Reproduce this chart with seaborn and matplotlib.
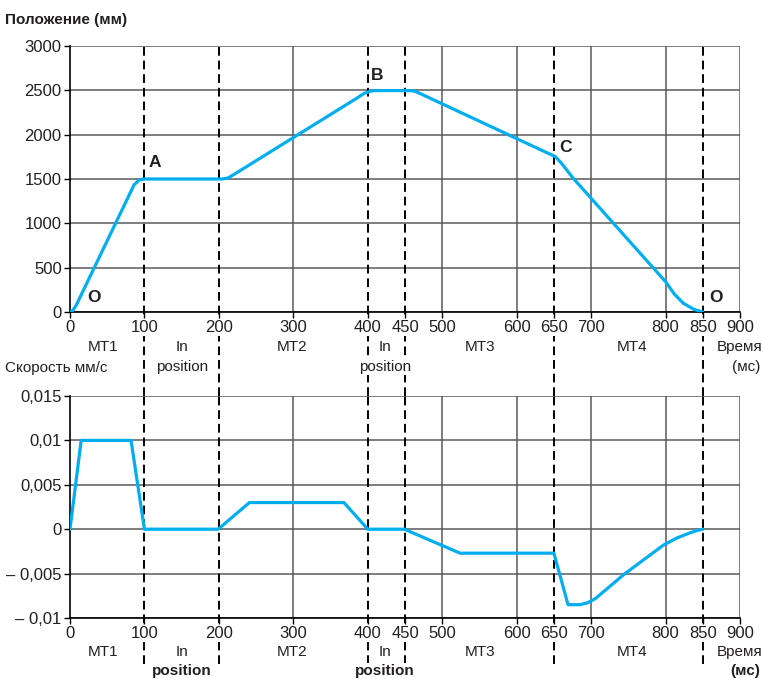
import matplotlib
matplotlib.use('Agg')
import matplotlib.pyplot as plt
import seaborn as sns
import pandas as pd
from matplotlib import font_manager

# Данные: положение (мм) по времени (мс)
t_pos = [0, 4, 8, 86, 93, 100, 204, 212, 220, 385, 395, 404, 410, 457, 463, 470,
         652, 660, 676, 800, 812, 824, 838, 850]
pos = [0, 20, 70, 1433, 1490, 1500, 1500, 1510, 1550, 2410, 2465, 2492, 2497, 2497, 2490, 2465,
       1752, 1680, 1508, 342, 200, 98, 30, 0]

# Данные: скорость (мм/с) по времени (мс)
t_vel = [0, 15, 82, 100, 199, 241, 368, 400, 449, 524, 650, 669, 685, 695, 706, 744, 797,
         815, 830, 842, 850]
vel = [0, 0.01, 0.01, 0, 0, 0.003, 0.003, 0, 0, -0.0027, -0.0027, -0.0085, -0.0085, -0.0083,
       -0.0078, -0.0051, -0.0018, -0.0010, -0.0005, -0.00015, 0]

x_ticks = [0, 100, 200, 300, 400, 450, 500, 600, 650, 700, 800, 850, 900]
pos_ticks = [0, 500, 1000, 1500, 2000, 2500, 3000]
vel_ticks = [-0.01, -0.005, 0, 0.005, 0.01, 0.015]
vel_tick_labels = ['– 0,01', '– 0,005', '0', '0,005', '0,01', '0,015']
phase_bounds = [100, 200, 400, 450, 650, 850]
solid_grid = [300, 500, 600, 700, 800, 900]
phase_names = ['MT1', 'In', 'MT2', 'In', 'MT3', 'MT4']
phase_x = [44, 150, 298, 423, 551, 755]
point_labels = ['O', 'A', 'B', 'C', 'O']
point_x = [32, 114, 413, 666, 868]
point_y = [160, 1690, 2670, 1850, 160]

sns.set_style('white')
names = {f.name for f in font_manager.fontManager.ttflist}
narrow = 'Liberation Sans Narrow' if 'Liberation Sans Narrow' in names else 'Liberation Sans'
plt.rcParams['font.family'] = ['Liberation Sans', 'DejaVu Sans']
ink = '#231f20'
blue = '#00aeef'
grid_c = '#5a5a5a'
white_box = dict(facecolor='white', edgecolor='none', pad=0.6)

W, H = 763, 679
fig = plt.figure(figsize=(W / 100, H / 100), dpi=100)


def px_axes(l, t, r, b):
    return fig.add_axes([l / W, 1 - b / H, (r - l) / W, (b - t) / H])


ax1 = px_axes(70, 46, 740, 312)
ax2 = px_axes(70, 396, 740, 618)

df_pos = pd.DataFrame({'t': t_pos, 'v': pos})
df_vel = pd.DataFrame({'t': t_vel, 'v': vel})
sns.lineplot(data=df_pos, x='t', y='v', ax=ax1, color=blue, linewidth=2.3, sort=False, zorder=5)
sns.lineplot(data=df_vel, x='t', y='v', ax=ax2, color=blue, linewidth=2.3, sort=False, zorder=5)

ax1.set_ylim(0, 3000)
ax1.set_yticks(pos_ticks)
ax2.set_ylim(-0.01, 0.015)
ax2.set_yticks(vel_ticks)
ax2.set_yticklabels(vel_tick_labels)

for ax, ext in [(ax1, (396 - 312) / 266), (ax2, (664 - 618) / 222)]:
    ax.set_xlim(0, 900)
    ax.set_xticks(x_ticks)
    ax.set_xlabel('')
    ax.set_ylabel('')
    ax.grid(axis='y', color=grid_c, linewidth=1.1)
    for x in solid_grid:
        ax.axvline(x, color=grid_c, linewidth=1.1, zorder=1)
    for x in phase_bounds:
        ax.axvline(x, ymin=-ext, ymax=1, color='black', linewidth=1.4,
                   linestyle=(0, (4.5, 2.5)), clip_on=False, zorder=2)
    for s in ['top', 'right']:
        ax.spines[s].set_visible(False)
    for s in ['left', 'bottom']:
        ax.spines[s].set_color('black')
        ax.spines[s].set_linewidth(1.2)
    ax.tick_params(axis='both', which='major', length=4, width=1, color='black',
                   labelsize=12, labelcolor=ink, pad=2, left=True, bottom=True)
    ax.xaxis.set_zorder(3)
    for lab in ax.get_xticklabels():
        lab.set_bbox(white_box)


# фазы
def phase_labels(ax, y1, y2, bold2):
    for name, x in zip(phase_names, phase_x):
        ax.text(x, y1, name, transform=ax.get_xaxis_transform(), ha='center', va='center',
                fontsize=11, family=narrow, color=ink, bbox=white_box, zorder=4)
        if name == 'In':
            ax.text(x, y2, 'position', transform=ax.get_xaxis_transform(), ha='center',
                    va='center', fontsize=11, family=narrow, color=ink, bbox=white_box, zorder=4,
                    fontweight='bold' if bold2 else 'normal')


phase_labels(ax1, -(347 - 312) / 266, -(367 - 312) / 266, False)
phase_labels(ax2, -(652 - 618) / 222, -(671 - 618) / 222, True)

for lab, x, y in zip(point_labels, point_x, point_y):
    ax1.text(x, y, lab, ha='center', va='center', fontsize=12.5, fontweight='bold', color=ink)

fig.text(5 / W, 1 - 20 / H, 'Положение (мм)', ha='left', va='center', fontsize=11,
         family=narrow, fontweight='bold', color=ink)
fig.text(5 / W, 1 - 368 / H, 'Скорость мм/с', ha='left', va='center', fontsize=11,
         family=narrow, color=ink)
fig.text(762 / W, 1 - 347 / H, 'Время', ha='right', va='center', fontsize=11, family=narrow, color=ink)
fig.text(760 / W, 1 - 367 / H, '(мс)', ha='right', va='center', fontsize=11, family=narrow, color=ink)
fig.text(762 / W, 1 - 652 / H, 'Время', ha='right', va='center', fontsize=11, family=narrow, color=ink)
fig.text(760 / W, 1 - 671 / H, '(мс)', ha='right', va='center', fontsize=11, family=narrow,
         fontweight='bold', color=ink)

fig.savefig('out.png', dpi=100)
